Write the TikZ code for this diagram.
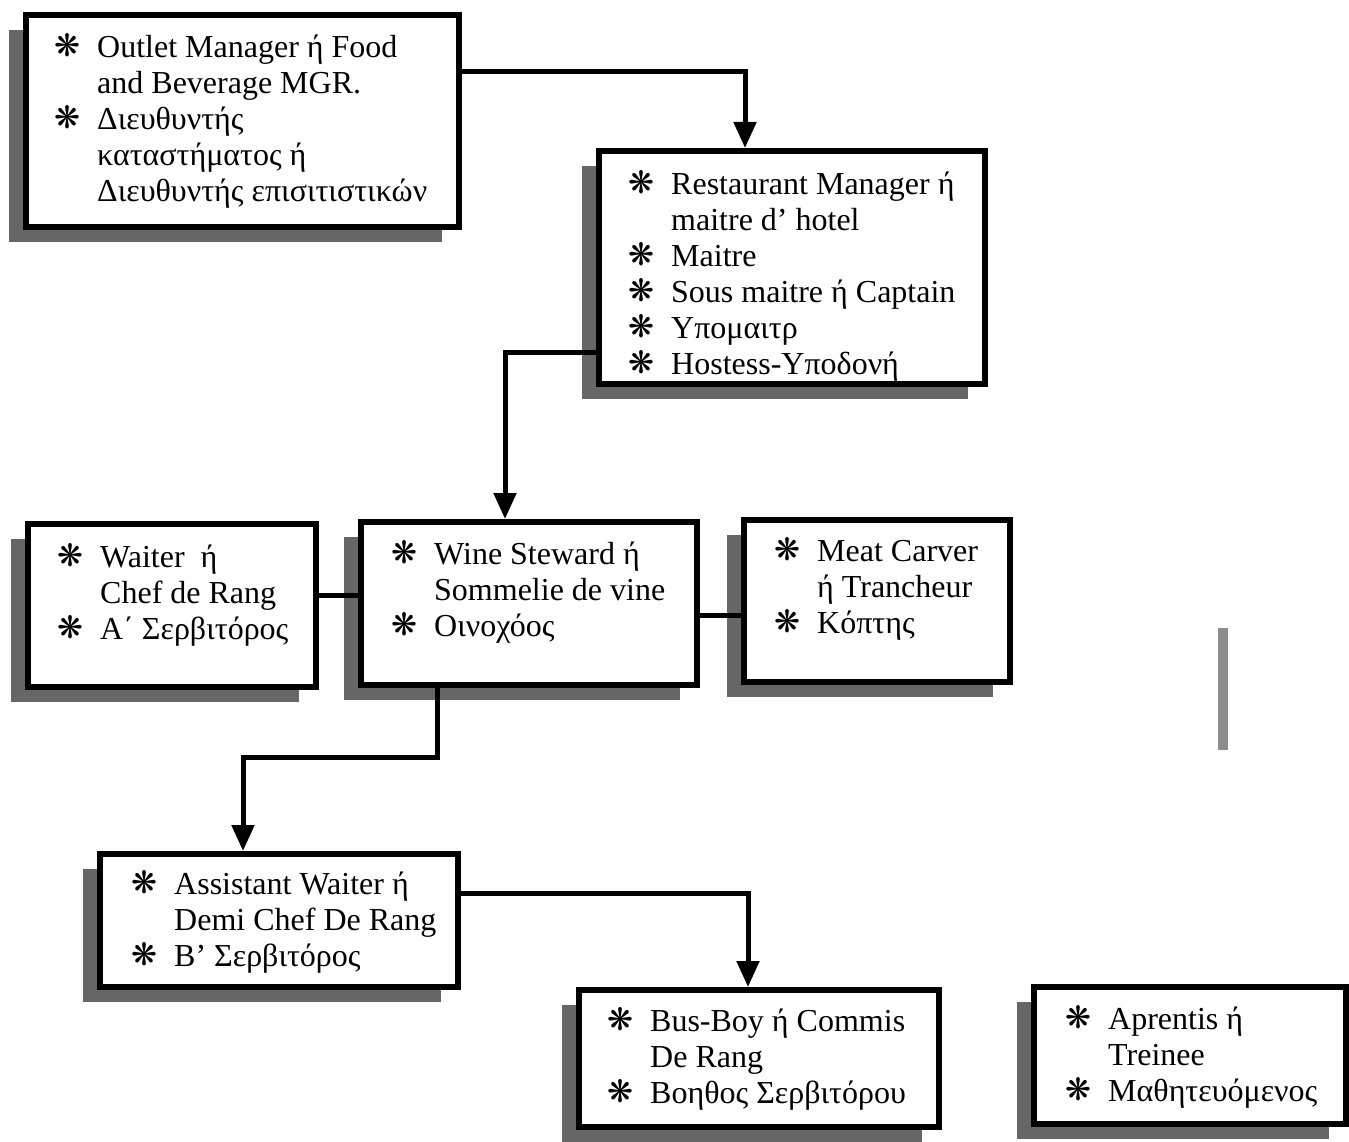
\documentclass[tikz,border=0pt]{standalone}
\usepackage{fontspec}
\setmainfont{Liberation Serif}
\newfontfamily\symfont{DejaVu Sans}
\usetikzlibrary{arrows.meta,shadows,calc}
\newcommand{\bul}{\smash{\raisebox{1pt}{\symfont\fontsize{31}{31}\selectfont ❋}}}
\newcommand{\itm}{\makebox[43pt][l]{\bul}}
\newcommand{\cnt}{\hspace*{43pt}}
\begin{document}
\begin{tikzpicture}[x=1pt,y=-1pt,
  box/.style={draw=black, line width=6pt, fill=white, rectangle, inner sep=0pt,
    general shadow={shadow xshift=-17pt, shadow yshift=-15pt, fill=black!60}},
  txt/.style={anchor=north west, inner sep=0pt, align=left, font=\fontsize{32}{36}\selectfont},
  conn/.style={line width=5pt},
  arr/.style={conn, -{Triangle[length=26pt,width=22pt]}}]
\useasboundingbox (0,0) rectangle (1349,1142);

% boxes
\node[box, minimum width=433pt, minimum height=212pt] (b1) at (242.5,121) {};
\node[box, minimum width=386pt, minimum height=233pt] (b2) at (792,267.5) {};
\node[box, minimum width=288pt, minimum height=163pt] (b3) at (172,605.5) {};
\node[box, minimum width=336pt, minimum height=163pt] (b4) at (529,603.5) {};
\node[box, minimum width=266pt, minimum height=162pt] (b5) at (877,601) {};
\node[box, minimum width=358pt, minimum height=133pt] (b6) at (279,920.5) {};
\node[box, minimum width=360pt, minimum height=137pt] (b7) at (759,1058.5) {};
\node[box, minimum width=312pt, minimum height=137pt] (b8) at (1190,1055.5) {};

% texts
\node[txt] (t1) at (54,32) {\strut\itm Outlet Manager ή Food\\\strut\cnt and Beverage MGR.\\\strut\itm Διευθυντής\\\strut\cnt καταστήματος ή\\\strut\cnt Διευθυντής επισιτιστικών};
\node[txt] (t2) at (628,169) {\strut\itm Restaurant Manager ή\\\strut\cnt maitre d’ hotel\\\strut\itm Maitre\\\strut\itm Sous maitre ή Captain\\\strut\itm Υπομαιτρ\\\strut\itm Hostess-Υποδονή};
\node[txt] (t3) at (57,542) {\strut\itm Waiter~ ή\\\strut\cnt Chef de Rang\\\strut\itm Α΄ Σερβιτόρος};
\node[txt] (t4) at (391,539) {\strut\itm Wine Steward ή\\\strut\cnt Sommelie de vine\\\strut\itm Οινοχόος};
\node[txt] (t5) at (774,536) {\strut\itm Meat Carver\\\strut\cnt ή Trancheur\\\strut\itm Κόπτης};
\node[txt] (t6) at (131,869) {\strut\itm Assistant Waiter ή\\\strut\cnt Demi Chef De Rang\\\strut\itm B’ Σερβιτόρος};
\node[txt] (t7) at (607,1006) {\strut\itm Bus-Boy ή Commis\\\strut\cnt De Rang\\\strut\itm Βοηθος Σερβιτόρου};
\node[txt] (t8) at (1065,1004) {\strut\itm Aprentis ή\\\strut\cnt Treinee\\\strut\itm Μαθητευόμενος};

% connectors
\draw[arr] ([yshift=-60pt]b1.north east) -| ([xshift=-47pt]b2.north);
\draw[arr] ([yshift=-204pt]b2.north west) -| ([xshift=-24pt]b4.north);
\draw[conn] ([yshift=10pt]b3.east) -- ([yshift=10pt]b3.east -| b4.west);
\draw[conn] ([yshift=-12pt]b4.east) -- ([yshift=-12pt]b4.east -| b5.west);
\draw[arr] ([xshift=-92pt]b4.south) -- ++(0,69) -| ([xshift=-36pt]b6.north);
\draw[arr] ([yshift=-42pt]b6.north east) -| ([xshift=-11pt]b7.north);

% scanning speck
\fill[black!45] (1218,628) rectangle (1228,750);
\end{tikzpicture}
\end{document}
